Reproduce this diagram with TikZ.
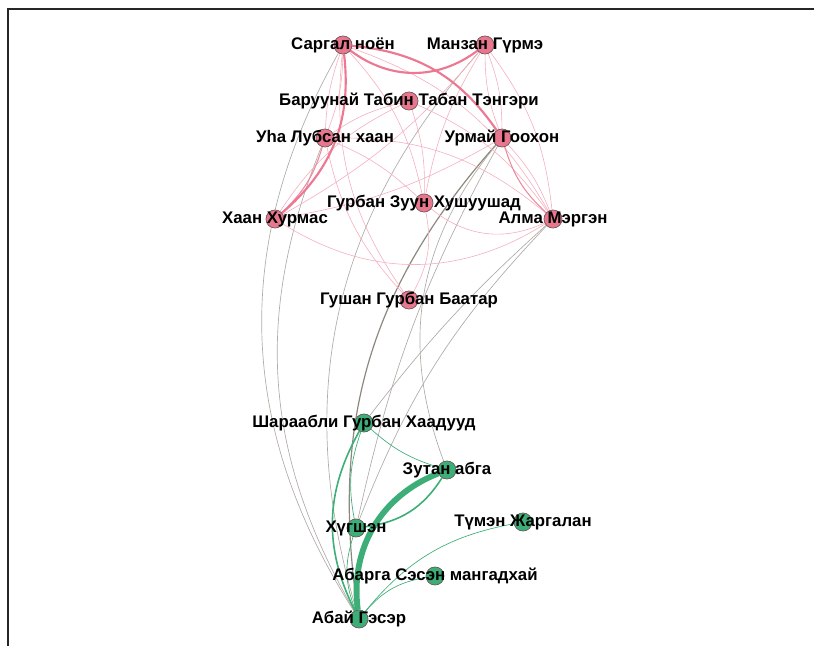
\documentclass[tikz,border=0pt]{standalone}
\usepackage{fontspec}
\setmainfont{Liberation Sans}
\begin{document}
\begin{tikzpicture}[x=0.75pt,y=0.75pt,
  pnode/.style={circle,minimum size=13.5pt,inner sep=0pt,fill=nodepink,draw=nodeedge,line width=0.4pt},
  gnode/.style={circle,minimum size=13.5pt,inner sep=0pt,fill=nodegreen,draw=nodeedge,line width=0.4pt},
  lbl/.style={font=\bfseries\fontsize{12.6}{14}\selectfont,inner sep=0pt,text=black},
  pthin/.style={draw=pinkthin,line width=0.45pt},
  pmed/.style={draw=pinkmed,line width=0.8pt},
  pthick/.style={draw=pinkthick,line width=1.6pt},
  gry/.style={draw=grayedge,line width=0.5pt},
  gryd/.style={draw=graydark,line width=0.9pt},
  gthin/.style={draw=greenedge,line width=0.5pt},
  gmed/.style={draw=greenedge,line width=1.2pt},
  gthick/.style={draw=greenedge,line width=4.4pt},
]
\definecolor{nodepink}{HTML}{E8778E}
\definecolor{nodegreen}{HTML}{3DAE77}
\definecolor{nodeedge}{HTML}{6E5A5E}
\definecolor{pinkthin}{HTML}{F5AFBD}
\definecolor{pinkmed}{HTML}{EE8AA0}
\definecolor{pinkthick}{HTML}{EC7891}
\definecolor{grayedge}{HTML}{B0ACA4}
\definecolor{graydark}{HTML}{8C887E}
\definecolor{greenedge}{HTML}{3DAE77}
\useasboundingbox (0,0) rectangle (814,646);
\draw[line width=1.9pt,draw=black!85] (8,0) -- (8,637) -- (814,637);
% nodes
\node[pnode] (S) at (343,601) {};
\node[pnode] (M) at (485,601) {};
\node[pnode] (B) at (409,545) {};
\node[pnode] (U) at (325,508) {};
\node[pnode] (R) at (502,508) {};
\node[pnode] (G) at (424,443) {};
\node[pnode] (H) at (275,427) {};
\node[pnode] (A) at (553,427) {};
\node[pnode] (Gu) at (409,346) {};
\node[gnode] (Sh) at (364,223) {};
\node[gnode] (Z) at (447,176) {};
\node[gnode] (Kh) at (356,118) {};
\node[gnode] (T) at (523,124) {};
\node[gnode] (Ab) at (435,70) {};
\node[gnode] (Ag) at (359,27) {};
% gray edges
\draw[gry] (S) to[bend right=31] (Ag);
\draw[gry] (U) to[bend right=26] (Ag);
\draw[gry] (M) to[bend right=29] (Ag);
\draw[gryd] (R) to[bend right=25] (Ag);
\draw[gry] (R) to[bend right=8] (Kh);
\draw[gry] (R) to[bend right=30] (Z);
\draw[gry] (A) to[bend right=11] (Kh);
\draw[gry] (A) to[bend right=5] (Sh);
% pink edges
\draw[pthin] (S) to[bend left=10] (U);
\draw[pthin] (S) to[bend right=8] (U);
\draw[pthin] (S) to[bend left=15] (G);
\draw[pthin] (S) to[bend left=20] (A);
\draw[pthin] (S) to[bend right=20] (Gu);
\draw[pthin] (M) to[bend left=10] (H);
\draw[pthin] (M) to[bend right=10] (G);
\draw[pthin] (M) to[bend left=10] (R);
\draw[pthin] (M) to[bend right=10] (R);
\draw[pthin] (M) to[bend left=15] (A);
\draw[pthin] (B) to[bend right=15] (H);
\draw[pthin] (B) to[bend left=15] (A);
\draw[pthin] (B) to[bend left=10] (G);
\draw[pthin] (B) to[bend right=10] (U);
\draw[pthin] (U) to[bend left=20] (A);
\draw[pthin] (U) to[bend right=15] (Gu);
\draw[pthin] (U) to[bend left=10] (G);
\draw[pthin] (H) to[bend right=32] (A);
\draw[pthin] (G) to[bend right=32] (A);
\draw[pthin] (G) to[bend left=20] (Gu);
\draw[pthin] (R) to[bend left=10] (A);
\draw[pthin] (R) to[bend left=10] (H);
\draw[pmed] (R) to[bend right=15] (A);
\draw[pmed] (U) to[bend left=15] (H);
\draw[pthick] (S) to[bend right=37] (M);
\draw[pthick] (S) to[bend left=25] (R);
\draw[pthick] (S) to[bend left=28] (H);
% green edges
\draw[gthick] (Z) to[bend right=38] (Ag);
\draw[gmed] (Kh) to[bend right=25] (Z);
\draw[gmed] (Sh) to[bend right=28] (Ag);
\draw[gthin] (Sh) to[bend right=12] (Z);
\draw[gthin] (Sh) to[bend right=15] (Kh);
\draw[gthin] (Kh) to[bend right=20] (Ag);
\draw[gthin] (T) to[bend right=20] (Ag);
\draw[gthin] (Ab) to[bend right=20] (Ag);
% redraw nodes on top
\foreach \n in {S,M,B,U,R,G,H,A,Gu} {\node[pnode] at (\n) {};}
\foreach \n in {Sh,Z,Kh,T,Ab,Ag} {\node[gnode] at (\n) {};}
% labels
\node[lbl] (lS) at (S) {Саргал ноён};
\node[lbl] (lM) at (M) {Манзан Гүрмэ};
\node[lbl] (lB) at (B) {Баруунай Табин Табан Тэнгэри};
\node[lbl] (lU) at (U) {Уhа Лубсан хаан};
\node[lbl] (lR) at (R) {Урмай Гоохон};
\node[lbl] (lG) at (G) {Гурбан Зуун Хушуушад};
\node[lbl] (lH) at (H) {Хаан Хурмас};
\node[lbl] (lA) at (A) {Алма Мэргэн};
\node[lbl] (lGu) at (Gu) {Гушан Гурбан Баатар};
\node[lbl] (lSh) at (Sh) {Шараабли Гурбан Хаадууд};
\node[lbl] (lZ) at (Z) {Зутан абга};
\node[lbl] (lKh) at (Kh) {Хүгшэн};
\node[lbl] (lT) at (T) {Түмэн Жаргалан};
\node[lbl] (lAb) at (Ab) {Абарга Сэсэн мангадхай};
\node[lbl] (lAg) at (Ag) {Абай Гэсэр};
\end{tikzpicture}
\end{document}
